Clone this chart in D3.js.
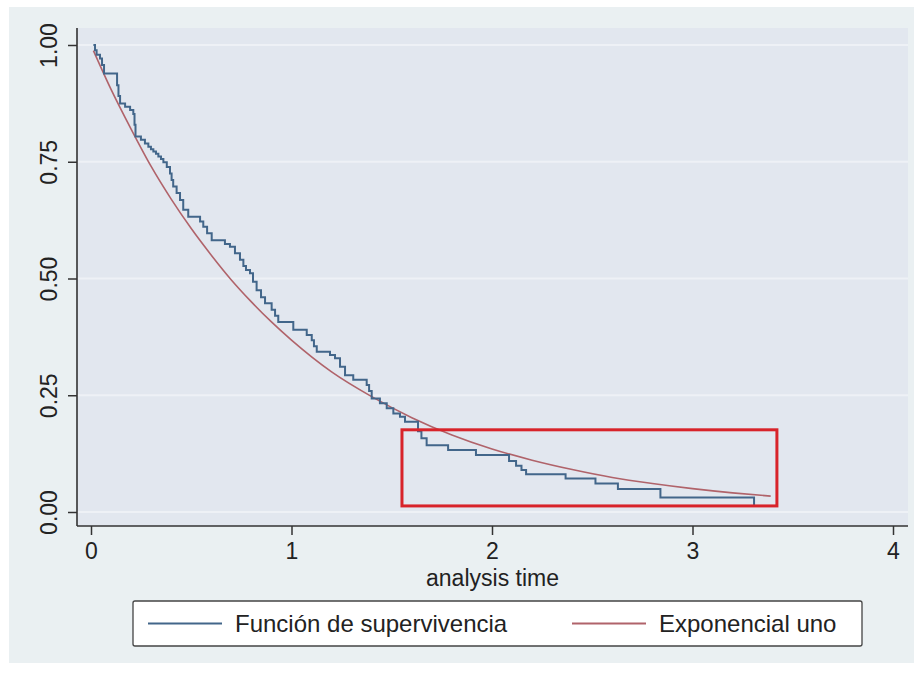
<!DOCTYPE html>
<html>
<head>
<meta charset="utf-8">
<script src="https://cdn.jsdelivr.net/npm/d3@7"></script>
<style>
  body { margin: 0; background: #fff; }
  svg text { font-family: "Liberation Sans", Arial, sans-serif; fill: #222; }
</style>
</head>
<body>
<div id="vis"></div>
<script>
// Kaplan-Meier steps (time, survival after the step)
const kmTime = [0.012, 0.020, 0.028, 0.045, 0.055, 0.065, 0.130, 0.137, 0.145, 0.170, 0.195, 0.211, 0.217, 0.222,
  0.249, 0.269, 0.286, 0.299, 0.311, 0.324, 0.336, 0.349, 0.361, 0.378, 0.394, 0.402, 0.410, 0.427, 0.444, 0.460,
  0.485, 0.544, 0.560, 0.579, 0.602, 0.668, 0.693, 0.718, 0.743, 0.760, 0.773, 0.793, 0.808, 0.826, 0.848, 0.868,
  0.901, 0.918, 0.934, 1.009, 1.076, 1.101, 1.112, 1.126, 1.192, 1.217, 1.242, 1.267, 1.308, 1.375, 1.387, 1.400,
  1.441, 1.475, 1.508, 1.541, 1.566, 1.631, 1.648, 1.674, 1.781, 1.920, 2.085, 2.120, 2.147, 2.170, 2.367, 2.516,
  2.628, 2.840, 3.307]
const kmSurv = [1.000, 0.989, 0.979, 0.971, 0.957, 0.939, 0.914, 0.891, 0.875, 0.868, 0.861, 0.852, 0.829, 0.804,
  0.797, 0.789, 0.782, 0.777, 0.772, 0.767, 0.761, 0.756, 0.749, 0.739, 0.725, 0.711, 0.697, 0.683, 0.668, 0.647,
  0.632, 0.622, 0.611, 0.597, 0.582, 0.574, 0.568, 0.554, 0.540, 0.527, 0.518, 0.511, 0.493, 0.475, 0.460, 0.447,
  0.433, 0.420, 0.407, 0.390, 0.379, 0.368, 0.355, 0.343, 0.336, 0.329, 0.311, 0.293, 0.283, 0.272, 0.259, 0.243,
  0.233, 0.222, 0.211, 0.204, 0.193, 0.173, 0.158, 0.143, 0.133, 0.122, 0.109, 0.099, 0.090, 0.081, 0.072, 0.061,
  0.049, 0.031, 0.015]
const kmEnd = 3.307

// exponential curve, points
const expTime = [0.012, 0.1, 0.2, 0.3, 0.4, 0.5, 0.6, 0.7, 0.8, 0.9, 1.0, 1.2, 1.4, 1.6, 1.8, 2.0, 2.2, 2.4, 2.6, 2.8, 3.0, 3.2, 3.39]
const expSurv = [0.988, 0.905, 0.820, 0.740, 0.670, 0.607, 0.550, 0.497, 0.450, 0.407, 0.368, 0.300, 0.247, 0.202,
  0.165, 0.135, 0.111, 0.091, 0.074, 0.061, 0.050, 0.041, 0.034]

// highlight box (data units)
const boxTime = [1.551, 3.421]
const boxSurv = [0.013, 0.176]

const xTicks = [0, 1, 2, 3, 4]
const yTicks = [0, 0.25, 0.5, 0.75, 1]
const xTitle = 'analysis time'
const legendLabels = ['Función de supervivencia', 'Exponencial uno']
const legendColors = ['#42668a', '#b0636a']

const W = 919, H = 673
const plot = {left: 77, right: 908, top: 28, bottom: 526}

let svg = d3.select('#vis').append('svg')
    .attr('width', W)
    .attr('height', H)

let x = d3.scaleLinear([0, 4], [91, 893])
let y = d3.scaleLinear([0, 1], [512, 45])

// backgrounds
svg.append('rect')
    .attr('x', 9).attr('y', 7)
    .attr('width', 905).attr('height', 656)
    .attr('fill', '#eaf0f2')

svg.append('rect')
    .attr('x', plot.left).attr('y', plot.top)
    .attr('width', plot.right - plot.left).attr('height', plot.bottom - plot.top)
    .attr('fill', '#e2e7ef')

// horizontal grid
svg.selectAll('.grid')
    .data(yTicks)
    .enter()
    .append('line')
        .attr('class', 'grid')
        .attr('x1', plot.left).attr('x2', plot.right)
        .attr('y1', d => y(d)).attr('y2', d => y(d))
        .attr('stroke', '#eef1f6')
        .attr('stroke-width', 2)

// y axis
let yAxis = d3.axisLeft(y)
    .tickValues(yTicks)
    .tickFormat(d3.format('.2f'))
    .tickSize(9)

svg.append('g')
    .attr('transform', `translate(${plot.left}, 0)`)
    .call(yAxis)
    .call(g => g.select('.domain').remove())
    .call(g => g.selectAll('.tick line').attr('stroke', '#333').attr('stroke-width', 1.5))
    .call(g => g.selectAll('.tick text')
        .attr('transform', 'rotate(-90)')
        .attr('x', 0)
        .attr('y', -20)
        .attr('dy', 0)
        .attr('text-anchor', 'middle')
        .attr('font-size', 23)
        .attr('fill', '#222'))

// x axis
let xAxis = d3.axisBottom(x)
    .tickValues(xTicks)
    .tickFormat(d3.format('d'))
    .tickSize(9)
    .tickPadding(8)

svg.append('g')
    .attr('transform', `translate(0, ${plot.bottom})`)
    .call(xAxis)
    .call(g => g.select('.domain').remove())
    .call(g => g.selectAll('.tick line').attr('stroke', '#333').attr('stroke-width', 1.5))
    .call(g => g.selectAll('.tick text').attr('font-size', 23).attr('fill', '#222'))

svg.append('line')
    .attr('x1', plot.left).attr('x2', plot.left)
    .attr('y1', plot.top).attr('y2', plot.bottom)
    .attr('stroke', '#333').attr('stroke-width', 1.6)

svg.append('line')
    .attr('x1', plot.left).attr('x2', plot.right)
    .attr('y1', plot.bottom).attr('y2', plot.bottom)
    .attr('stroke', '#333').attr('stroke-width', 1.6)

svg.append('text')
    .attr('x', (plot.left + plot.right) / 2)
    .attr('y', 586)
    .attr('text-anchor', 'middle')
    .attr('font-size', 23)
    .text(xTitle)

// exponential curve
let expData = expTime.map((t, i) => ({t: t, s: expSurv[i]}))
svg.append('path')
    .datum(expData)
    .attr('fill', 'none')
    .attr('stroke', legendColors[1])
    .attr('stroke-width', 1.6)
    .attr('d', d3.line().x(d => x(d.t)).y(d => y(d.s)).curve(d3.curveMonotoneX))

// KM step function
let kmData = kmTime.map((t, i) => ({t: t, s: kmSurv[i]}))
kmData.push({t: kmEnd, s: kmSurv[kmSurv.length - 1]})
svg.append('path')
    .datum(kmData)
    .attr('fill', 'none')
    .attr('stroke', legendColors[0])
    .attr('stroke-width', 2)
    .attr('d', d3.line().x(d => x(d.t)).y(d => y(d.s)).curve(d3.curveStepAfter))

// red highlight box
svg.append('rect')
    .attr('x', x(boxTime[0]))
    .attr('y', y(boxSurv[1]))
    .attr('width', x(boxTime[1]) - x(boxTime[0]))
    .attr('height', y(boxSurv[0]) - y(boxSurv[1]))
    .attr('fill', 'none')
    .attr('stroke', '#d8232a')
    .attr('stroke-width', 3)

// legend
let legend = svg.append('g')
legend.append('rect')
    .attr('x', 133).attr('y', 601)
    .attr('width', 729).attr('height', 45)
    .attr('rx', 2)
    .attr('fill', '#fff')
    .attr('stroke', '#444')
    .attr('stroke-width', 1.3)

const legendX = [148, 572]
legendLabels.forEach((lab, i) => {
    legend.append('line')
        .attr('x1', legendX[i]).attr('x2', legendX[i] + 74)
        .attr('y1', 623.5).attr('y2', 623.5)
        .attr('stroke', legendColors[i])
        .attr('stroke-width', 2)
    legend.append('text')
        .attr('x', legendX[i] + 87)
        .attr('y', 632)
        .attr('font-size', 24)
        .text(lab)
})
</script>
</body>
</html>
